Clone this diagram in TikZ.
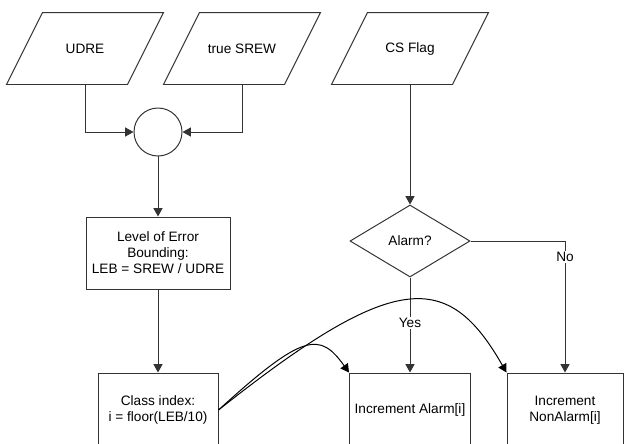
\documentclass[tikz,border=0pt]{standalone}
\usepackage{fontspec}
\setmainfont{Liberation Sans}
\usetikzlibrary{shapes.geometric,arrows.meta}

\begin{document}
\begin{tikzpicture}[
  font=\fontsize{9.7}{11.4}\selectfont,
  line width=0.7pt,
  inputbox/.style={rectangle, minimum width=3cm, minimum height=1.775cm},
  procbox/.style={rectangle, draw=black!80, align=center, minimum width=3.0cm, minimum height=1.85cm},
  link/.style={draw=black!80, -{Triangle[length=6pt,width=6.5pt]}},
  lbl/.style={fill=white, inner sep=1pt}
]
  \useasboundingbox (0, 0) rectangle (15.6, -11.075);

  % inputs
  \node (udre) [inputbox] at (2.125, -1.2125) {UDRE};
  \node (srew) [inputbox] at (6.05, -1.2125) {true SREW};
  \node (csflag) [inputbox] at (10.25, -1.2125) {CS Flag};
  \foreach \n in {udre, srew, csflag}
    \draw [black!80] ([xshift=0.45cm]\n.north west) -- ([xshift=0.45cm]\n.north east) -- ([xshift=-0.45cm]\n.south east) -- ([xshift=-0.45cm]\n.south west) -- cycle;
  \node (sum) [circle, draw=black!80, minimum size=1.2cm, inner sep=0pt] at (3.95, -3.3) {};

  % processing
  \node (leb) [procbox, minimum width=3.6cm, minimum height=1.8cm] at (3.95, -6.325) {Level of Error\\Bounding:\\LEB = SREW / UDRE};
  \node (class) [procbox] at (3.95, -10.25) {Class index:\\i = floor(LEB/10)};
  \node (alarm) [diamond, draw=black!80, aspect=1.667, minimum width=3cm, minimum height=1.8cm, inner sep=0pt] at (10.25, -6.025) {Alarm?};
  \node (incalarm) [procbox, minimum width=3.025cm] at (10.25, -10.25) {Increment Alarm[i]};
  \node (incnon) [procbox, minimum width=2.9cm] at (14.125, -10.25) {Increment\\NonAlarm[i]};

  \draw [link] (udre.south) |- (sum.west);
  \draw [link] (srew.south) |- (sum.east);
  \draw [link] (sum) -- (leb);
  \draw [link] (leb) -- (class);
  \draw [link] (csflag.south) -- (alarm.north);
  \draw [link] (alarm.south) -- node [lbl, pos=0.48] {Yes} (incalarm.north);
  \draw [link] (alarm.east) -| node [lbl, pos=0.56] {No} (incnon.north);

  % index goes to both counters
  \draw [link, draw=black] (class.east) .. controls (7.6, -8.3) and (8.0, -8.3) .. (incalarm.north west);
  \draw [link, draw=black] (class.east) .. controls (9.875, -6.75) and (11.2, -6.75) .. (incnon.north west);
\end{tikzpicture}
\end{document}
